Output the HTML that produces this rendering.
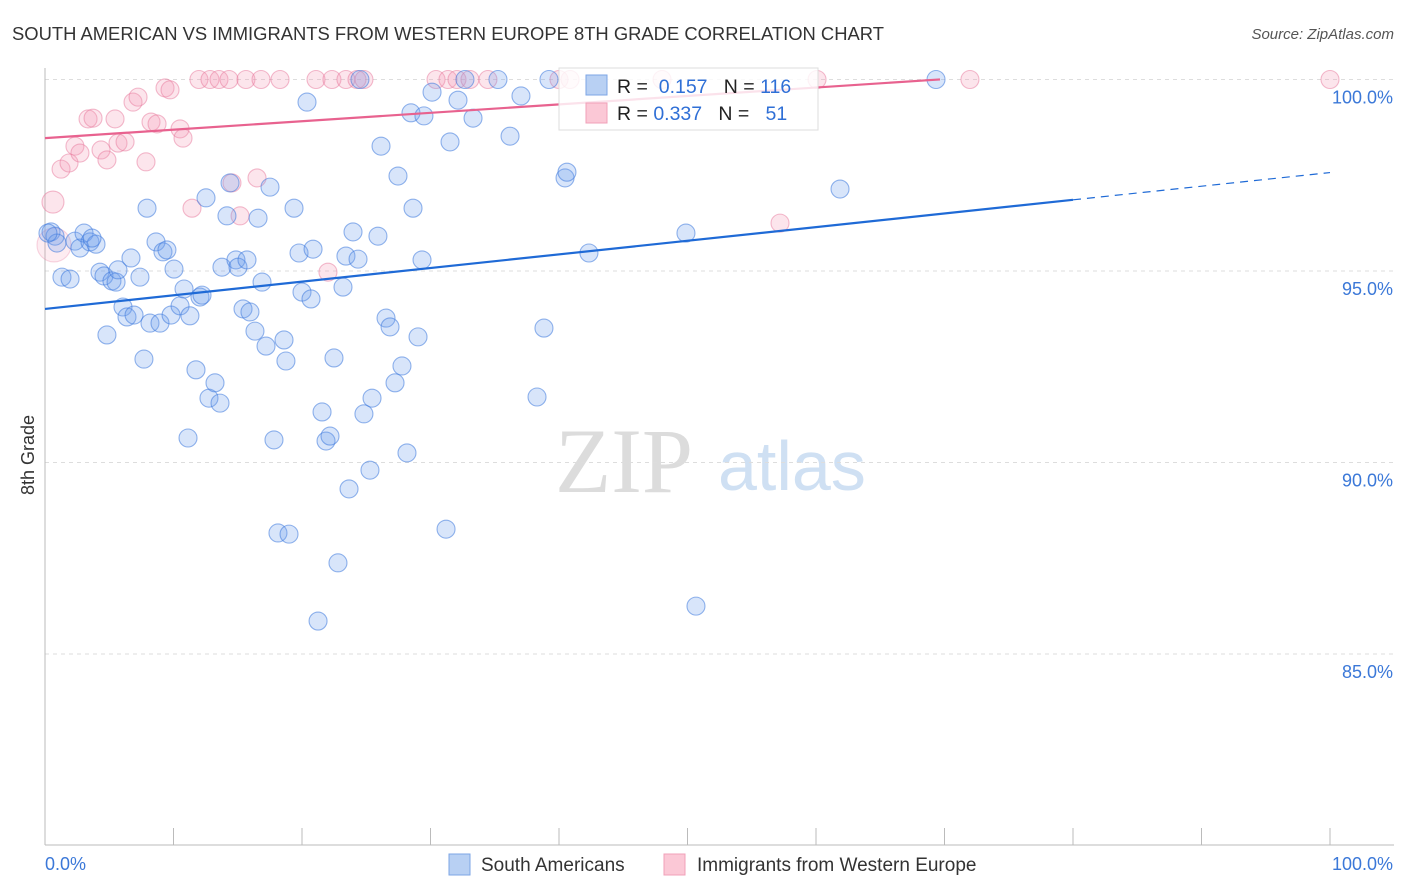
<!DOCTYPE html>
<html><head><meta charset="utf-8"><style>
body{margin:0;background:#fff;font-family:"Liberation Sans",sans-serif;}
#wrap{position:relative;width:1406px;height:892px;overflow:hidden;}
</style></head><body>
<div id="wrap">
<svg id="chart" width="1406" height="892">
<text x="12" y="40" font-size="18.4" fill="#333">SOUTH AMERICAN VS IMMIGRANTS FROM WESTERN EUROPE 8TH GRADE CORRELATION CHART</text>
<text x="1394" y="39" font-size="15" fill="#555" font-style="italic" text-anchor="end">Source: ZipAtlas.com</text>
<text x="555" y="492" font-size="92" fill="#dcdcdc" font-family="Liberation Serif,serif">ZIP</text>
<text x="718" y="490" font-size="70" fill="#cfe0f3">atlas</text>
<text x="34" y="455" font-size="18" fill="#333" transform="rotate(-90 34 455)" text-anchor="middle">8th Grade</text>
<g id="grid"></g><g id="pts"></g><g id="lines"></g>
<g>
<rect x="559" y="68" width="259" height="62" fill="rgba(255,255,255,0.82)" stroke="#ddd"/>
<rect x="586" y="75" width="21" height="20" fill="#b8d0f3" stroke="#7da6e6"/>
<rect x="586" y="103" width="21" height="20" fill="#fbc8d6" stroke="#f0a0b8"/>
<text x="617" y="93" font-size="19.5" fill="#222">R = <tspan fill="#2f6fd6">&#160;0.157</tspan>&#160;&#160;&#160;N = <tspan fill="#2f6fd6">116</tspan></text>
<text x="617" y="120" font-size="19.5" fill="#222">R = <tspan fill="#2f6fd6">0.337</tspan>&#160;&#160;&#160;N = <tspan fill="#2f6fd6">&#160;&#160;51</tspan></text>
</g>
<g>
<rect x="449" y="854" width="21" height="21" fill="#b8d0f3" stroke="#7da6e6"/>
<text x="481" y="871" font-size="19" fill="#333">South Americans</text>
<rect x="664" y="854" width="21" height="21" fill="#fbc8d6" stroke="#f0a0b8"/>
<text x="697" y="871" font-size="19" fill="#333">Immigrants from Western Europe</text>
</g>
</svg>
</div>
<script>
const blueX=[0.47,0.78,0.93,0.23,1.32,1.95,2.33,2.72,3.04,3.50,3.97,3.66,4.28,4.59,5.21,5.53,5.68,4.82,6.07,6.38,6.93,6.69,7.39,7.70,7.94,8.17,8.64,8.95,9.18,9.49,9.81,10.04,10.51,10.82,11.13,11.28,11.75,12.06,12.22,12.53,12.76,13.23,13.62,13.77,14.16,14.40,14.86,15.02,15.41,15.72,15.95,16.34,16.58,16.89,17.20,17.51,17.82,18.13,18.60,18.75,18.99,19.38,19.77,20.00,20.39,20.70,20.86,21.25,21.56,21.87,22.18,22.49,22.80,23.19,23.42,23.66,23.97,24.36,24.82,25.29,25.45,25.91,26.15,26.54,26.85,27.24,27.47,27.78,28.17,28.48,28.64,29.03,29.34,29.49,30.12,31.21,31.52,32.14,32.68,33.31,35.25,36.19,37.04,38.29,38.83,39.22,40.47,40.62,42.33,49.88,50.66,61.87,69.34,24.51];
const blueY=[96.02,95.91,95.73,95.99,94.84,94.79,95.78,95.60,95.99,95.76,95.70,95.86,94.97,94.87,94.74,94.71,95.03,93.33,94.06,93.80,93.85,95.34,94.84,92.70,96.64,93.64,95.76,93.64,95.50,95.55,93.85,95.05,94.09,94.53,90.64,93.83,92.42,94.32,94.37,96.91,91.68,92.08,91.55,95.10,96.44,97.30,95.29,95.10,94.01,95.29,93.93,93.43,96.38,94.71,93.04,97.19,90.59,88.16,93.20,92.65,88.13,96.64,95.47,94.45,99.41,94.27,95.57,85.86,91.32,90.56,90.69,92.73,87.38,94.58,95.39,89.31,96.02,95.31,91.27,89.80,91.68,95.91,98.26,93.77,93.54,92.08,97.48,92.52,90.25,99.13,96.64,93.28,95.29,99.05,99.67,88.26,98.37,99.46,100,98.99,100,98.52,99.57,91.71,93.51,100,97.43,97.58,95.47,95.99,86.25,97.14,100,100];
const pinkX=[0.62,0.70,1.25,1.87,2.33,2.72,3.35,3.74,4.36,4.82,5.45,5.68,6.23,6.85,7.24,7.86,8.25,8.72,9.34,9.73,10.51,10.74,11.44,11.98,12.84,13.54,14.32,14.55,15.18,15.64,16.50,16.81,18.29,21.09,22.02,22.33,23.42,24.28,24.82,30.43,31.36,32.06,33.07,34.47,40.00,40.86,48.02,57.20,60.08,71.98,100];
const pinkY=[96.80,95.68,97.66,97.82,98.26,98.08,98.97,98.99,98.16,97.90,98.97,98.34,98.37,99.41,99.54,97.85,98.89,98.84,99.78,99.73,98.71,98.47,96.64,100,100,100,100,97.30,96.44,100,97.43,100,100,100,94.97,100,100,100,100,100,100,100,100,100,100,100,100,96.25,100,100,100];
const pinkR=[11,17,9,9,9,9,9,9,9,9,9,9,9,9,9,9,9,9,9,9,9,9,9,9,9,9,9,9,9,9,9,9,9,9,9,9,9,9,9,9,9,9,9,9,9,9,9,9,9,9,9];
const yTicks=[100,95,90,85];
const yTickLabels=["100.0%","95.0%","90.0%","85.0%"];
const xTicks=[0,10,20,30,40,50,60,70,80,90,100];
const blueTrend=[94.01,97.57];
const pinkTrend=[98.47,100.67];
const pinkTrendEnd=69.65, blueSolidEnd=80;

const X0=45,X1=1330,Y100=79.5,PX5=191.5,YB=845;
const sx=v=>X0+(X1-X0)*v/100;
const sy=v=>Y100+(100-v)*PX5/5;
const NS="http://www.w3.org/2000/svg";
function mk(tag,attrs,parent){const e=document.createElementNS(NS,tag);for(const k in attrs)e.setAttribute(k,attrs[k]);parent.appendChild(e);return e;}
const grid=document.getElementById('grid'),pts=document.getElementById('pts'),lines=document.getElementById('lines');
yTicks.forEach((t,i)=>{
 const l=mk('line',{x1:X0,x2:1394,y1:sy(t),y2:sy(t),stroke:'#ddd','stroke-dasharray':'4,4'},grid);
 
 
 const tx=mk('text',{x:1393,y:sy(t)+24,'font-size':18,fill:'#3b78d8','text-anchor':'end'},grid);
 tx.textContent=yTickLabels[i];
 
 
});
const ax=mk('line',{x1:X0,x2:1394,y1:YB,y2:YB,stroke:'#bbb'},grid);


const ay=mk('line',{x1:X0,x2:X0,y1:68,y2:YB,stroke:'#bbb'},grid);


xTicks.forEach(t=>{
 const l=mk('line',{x1:sx(t),x2:sx(t),y1:828,y2:YB,stroke:'#bbb'},grid);
 
 
});
const xl0=mk('text',{x:45,y:870,'font-size':18,fill:'#3b78d8'},grid);xl0.textContent='0.0%';


const xl1=mk('text',{x:1393,y:870,'font-size':18,fill:'#3b78d8','text-anchor':'end'},grid);xl1.textContent='100.0%';


pinkX.forEach((v,i)=>{
 const big=pinkR[i]>12;
 const c=mk('circle',{cx:sx(v),cy:sy(pinkY[i]),r:pinkR[i],fill:big?'rgba(245,150,180,0.18)':'rgba(245,150,180,0.25)',stroke:big?'rgba(232,120,155,0.3)':'rgba(232,120,155,0.5)','stroke-width':1.1},pts);
 
 
});
blueX.forEach((v,i)=>{
 const c=mk('circle',{cx:sx(v),cy:sy(blueY[i]),r:9,fill:'rgba(110,160,235,0.27)',stroke:'rgba(60,120,220,0.55)','stroke-width':1.1},pts);
 
 
});
const bAt=x=>blueTrend[0]+(blueTrend[1]-blueTrend[0])*x/100;
const pAt=x=>pinkTrend[0]+(pinkTrend[1]-pinkTrend[0])*x/100;
const bl=mk('line',{x1:sx(0),y1:sy(bAt(0)),x2:sx(blueSolidEnd),y2:sy(bAt(blueSolidEnd)),stroke:'#1f6ad6','stroke-width':2.2},lines);


const bd=mk('line',{x1:sx(blueSolidEnd),y1:sy(bAt(blueSolidEnd)),x2:sx(100),y2:sy(bAt(100)),stroke:'#1f6ad6','stroke-width':1.2,'stroke-dasharray':'8,6'},lines);


const pl=mk('line',{x1:sx(0),y1:sy(pAt(0)),x2:sx(pinkTrendEnd),y2:sy(pAt(pinkTrendEnd)),stroke:'#e8628f','stroke-width':2.2},lines);


</script>
</body></html>
